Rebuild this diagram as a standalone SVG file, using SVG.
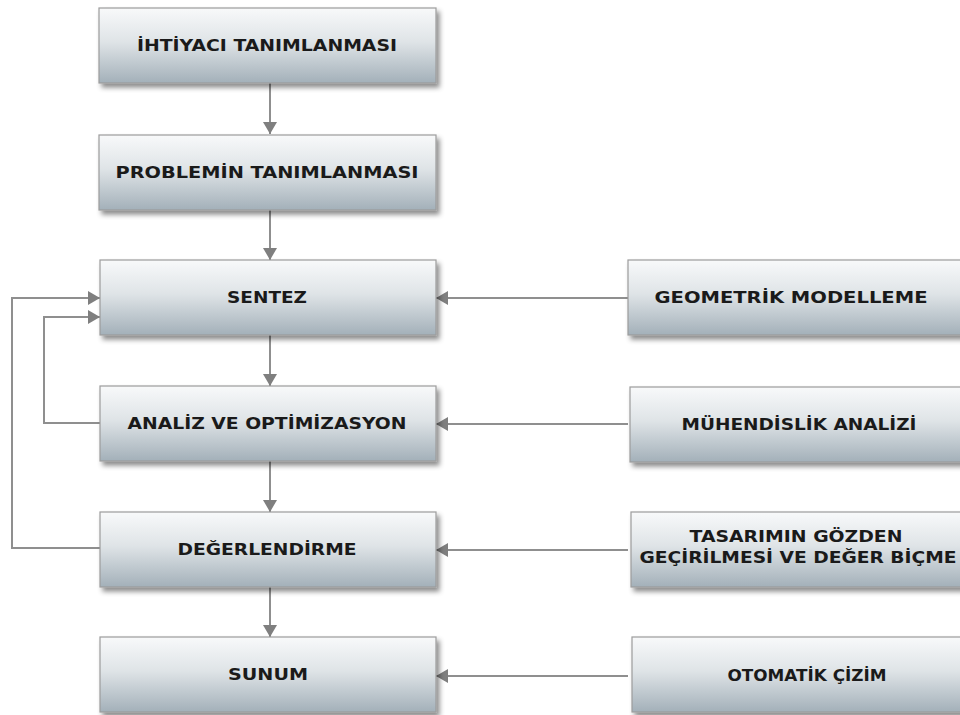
<svg xmlns="http://www.w3.org/2000/svg" width="960" height="715" viewBox="0 0 960 715">
<style>
.box{fill:url(#g);stroke:#9c9c9c;stroke-width:1.2;filter:url(#sh)}
.t{font-family:"DejaVu Sans","Liberation Sans",sans-serif;font-size:16px;font-weight:bold;fill:#1a1a1a;text-anchor:middle}
.c{fill:none;stroke:#8f8f8f;stroke-width:2}
</style>
<defs>
<linearGradient id="g" x1="0" y1="0" x2="0" y2="1">
<stop offset="0" stop-color="#f8f9fa"/>
<stop offset="0.45" stop-color="#dfe4e7"/>
<stop offset="1" stop-color="#a3b0b9"/>
</linearGradient>
<filter id="sh" x="-10%" y="-20%" width="130%" height="160%">
<feDropShadow dx="3" dy="4" stdDeviation="2.5" flood-color="#000" flood-opacity="0.45"/>
</filter>
<marker id="ah" viewBox="0 0 12 14" refX="12" refY="7" markerWidth="12" markerHeight="14" markerUnits="userSpaceOnUse" orient="auto">
<path d="M0,0 L12,7 L0,14 Z" fill="#7f7f7f"/>
</marker>
</defs>
<rect width="960" height="715" fill="#fff"/>
<g id="connectors">
<path class="c" d="M270,83 V134" marker-end="url(#ah)"/>
<path class="c" d="M270,210 V260" marker-end="url(#ah)"/>
<path class="c" d="M270,335 V386" marker-end="url(#ah)"/>
<path class="c" d="M270,461 V512" marker-end="url(#ah)"/>
<path class="c" d="M270,587 V637" marker-end="url(#ah)"/>
<path class="c" d="M628,298 H436" marker-end="url(#ah)"/>
<path class="c" d="M628,424 H436" marker-end="url(#ah)"/>
<path class="c" d="M628,550 H436" marker-end="url(#ah)"/>
<path class="c" d="M628,676 H436" marker-end="url(#ah)"/>
<path class="c" d="M100,548 H12 V298 H100" marker-end="url(#ah)"/>
<path class="c" d="M100,423 H44 V317 H100" marker-end="url(#ah)"/>
</g>
<g id="n1"><rect class="box" x="99" y="8" width="337" height="75"/><text class="t" x="267" y="51" textLength="260" lengthAdjust="spacingAndGlyphs">İHTİYACI TANIMLANMASI</text></g>
<g id="n2"><rect class="box" x="99" y="135" width="337" height="75"/><text class="t" x="267" y="178" textLength="303" lengthAdjust="spacingAndGlyphs">PROBLEMİN TANIMLANMASI</text></g>
<g id="n3"><rect class="box" x="100" y="260" width="336" height="75"/><text class="t" x="267" y="303" textLength="80" lengthAdjust="spacingAndGlyphs">SENTEZ</text></g>
<g id="n4"><rect class="box" x="100" y="386" width="336" height="75"/><text class="t" x="267" y="429" textLength="279" lengthAdjust="spacingAndGlyphs">ANALİZ VE OPTİMİZASYON</text></g>
<g id="n5"><rect class="box" x="100" y="512" width="336" height="75"/><text class="t" x="267" y="555" textLength="179" lengthAdjust="spacingAndGlyphs">DEĞERLENDİRME</text></g>
<g id="n6"><rect class="box" x="100" y="637" width="336" height="75"/><text class="t" x="268" y="680" textLength="80" lengthAdjust="spacingAndGlyphs">SUNUM</text></g>
<g id="n7"><rect class="box" x="628" y="260" width="336" height="75"/><text class="t" x="791" y="303" textLength="273" lengthAdjust="spacingAndGlyphs">GEOMETRİK MODELLEME</text></g>
<g id="n8"><rect class="box" x="630" y="387" width="334" height="75"/><text class="t" x="799" y="430" textLength="235" lengthAdjust="spacingAndGlyphs">MÜHENDİSLİK ANALİZİ</text></g>
<g id="n9"><rect class="box" x="631" y="512" width="333" height="75"/><text class="t" x="796" y="542" textLength="213" lengthAdjust="spacingAndGlyphs">TASARIMIN GÖZDEN</text><text class="t" x="798" y="563" textLength="317" lengthAdjust="spacingAndGlyphs">GEÇİRİLMESİ VE DEĞER BİÇME</text></g>
<g id="n10"><rect class="box" x="632" y="637" width="332" height="75"/><text class="t" x="807" y="681" textLength="159" lengthAdjust="spacingAndGlyphs">OTOMATİK ÇİZİM</text></g>
</svg>
